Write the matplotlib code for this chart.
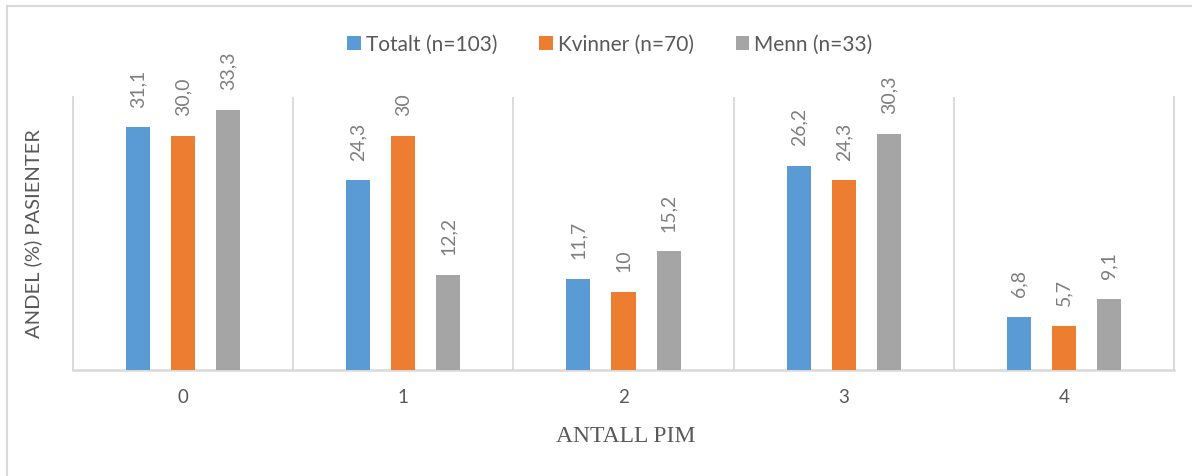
import numpy as np
import matplotlib.pyplot as plt
from matplotlib.lines import Line2D

plt.rcParams['font.family'] = ['Lato', 'DejaVu Sans']

# andel pasienter (%) per antall PIM
categories = ["0", "1", "2", "3", "4"]
series_names = ["Totalt (n=103)", "Kvinner (n=70)", "Menn (n=33)"]
totalt = [31.1, 24.3, 11.7, 26.2, 6.8]
kvinner = [30.0, 30, 10, 24.3, 5.7]
menn = [33.3, 12.2, 15.2, 30.3, 9.1]
# datalabels slik de står i figuren
totalt_txt = ["31,1", "24,3", "11,7", "26,2", "6,8"]
kvinner_txt = ["30,0", "30", "10", "24,3", "5,7"]
menn_txt = ["33,3", "12,2", "15,2", "30,3", "9,1"]

colors = ["#5B9BD5", "#ED7D31", "#A5A5A5"]
grid_col = "#D9D9D9"
text_col = "#595959"

W, H = 1192, 477
fig = plt.figure(figsize=(W/100, H/100), dpi=100)
ax = fig.add_axes([73/W, 1-371/H, 1101/W, 273/H])

x = np.arange(len(categories))
bw = 0.109
off = 0.205
for i, (vals, txts) in enumerate(zip([totalt, kvinner, menn], [totalt_txt, kvinner_txt, menn_txt])):
    pos = x + (i-1)*off
    ax.bar(pos, vals, width=bw, color=colors[i], label=series_names[i], zorder=3)
    for p, v, t in zip(pos, vals, txts):
        ax.annotate(t, (p, v), xytext=(0, 15), textcoords="offset points",
                    rotation=90, ha="center", va="bottom", fontsize=14, color="#7F7F7F")

ax.set_xlim(-0.5, 4.5)
ax.set_ylim(0, 35)
ax.set_xticks(x)
ax.set_xticklabels(categories, fontsize=13.5, color=text_col)
ax.set_xticks(np.arange(-0.5, 5, 1), minor=True)
ax.tick_params(axis="x", which="both", length=0, pad=13)
ax.set_yticks([])
ax.grid(which="minor", axis="x", color=grid_col, lw=1.3)
for s in ["left", "right", "bottom"]:
    ax.spines[s].set_color(grid_col)
    ax.spines[s].set_linewidth(1.3)
ax.spines["bottom"].set_linewidth(1.8)
ax.spines["top"].set_visible(False)

fig.text(33/W, 1-234/H, "ANDEL (%) PASIENTER", rotation=90, ha="center", va="center",
         fontsize=14.5, color=text_col)
fig.text(626/W, 1-437/H, "ANTALL PIM", ha="center", va="center",
         fontsize=17, color=text_col, family="Liberation Serif")

leg = fig.legend(loc="center", bbox_to_anchor=(610/W, 1-45/H), ncol=3, frameon=False,
                 fontsize=15, handlelength=0.65, handleheight=0.65, handletextpad=0.25,
                 columnspacing=2.0)
for t in leg.get_texts():
    t.set_color(text_col)

# ramme rundt diagrammet
fig.add_artist(Line2D([7/W, 1], [1-7/H, 1-7/H], color=grid_col, lw=1.5, transform=fig.transFigure))
fig.add_artist(Line2D([7/W, 7/W], [0, 1-7/H], color=grid_col, lw=1.5, transform=fig.transFigure))

fig.savefig("out.png", dpi=100)
